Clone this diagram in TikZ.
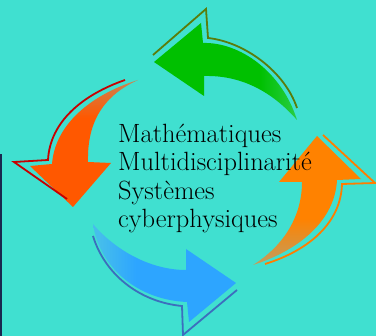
\documentclass[tikz,border=0pt]{standalone}
\usetikzlibrary{positioning}
\definecolor{bgturq}{RGB}{64,224,208}
\definecolor{greenfill}{RGB}{0,192,0}
\definecolor{greentail}{RGB}{40,205,70}
\definecolor{greenrim}{RGB}{90,125,10}
\definecolor{redfill}{RGB}{255,88,0}
\definecolor{redtail}{RGB}{205,130,80}
\definecolor{redrim}{RGB}{200,0,0}
\definecolor{orangefill}{RGB}{255,130,0}
\definecolor{orangetail}{RGB}{200,155,85}
\definecolor{orangerim}{RGB}{255,125,0}
\definecolor{bluefill}{RGB}{45,165,255}
\definecolor{bluetail}{RGB}{70,190,235}
\definecolor{bluerim}{RGB}{60,110,190}
\definecolor{stripdark}{RGB}{25,40,80}
\pgfdeclarehorizontalshading{greenfade}{100bp}{color(0bp)=(greenfill); color(62bp)=(greenfill); color(75bp)=(greentail); color(100bp)=(greentail)}
\pgfdeclareverticalshading{redfade}{100bp}{color(0bp)=(redfill); color(60bp)=(redfill); color(75bp)=(redtail); color(100bp)=(redtail)}
\pgfdeclareverticalshading{orangefade}{100bp}{color(0bp)=(orangetail); color(27bp)=(orangetail); color(43bp)=(orangefill); color(100bp)=(orangefill)}
\pgfdeclarehorizontalshading{bluefade}{100bp}{color(0bp)=(bluetail); color(27bp)=(bluetail); color(40bp)=(bluefill); color(100bp)=(bluefill)}
\begin{document}
\begin{tikzpicture}[x=1pt, y=-1pt,
    rim/.style={line width=1.8pt},
    themes/.style={align=left, anchor=north west, inner sep=0pt,
        font=\fontsize{26.4}{28.4}\selectfont}]
    \fill[bgturq] (0,0) rectangle (376,336);
    \useasboundingbox (0,0) rectangle (376,336);
    \fill[stripdark] (0,154) rectangle (2,336);

    % green arrow (top)
    \shade[shading=greenfade]
        (154,62) -- (201,23) -- (203,43) .. controls (240,42) and (282,72) .. (297,120)
        .. controls (275,95) and (245,75) .. (204,76) -- (204,96) -- cycle;
    \draw[rim, greenrim] (153,55) -- (206,9) -- (208,38)
        .. controls (245,42) and (285,72) .. (297,108);

    % red arrow (left)
    \shade[shading=redfade]
        (138,80) .. controls (90,95) and (55,125) .. (52,164) -- (30,166) -- (73,207)
        -- (111,163) -- (88,162) .. controls (87,120) and (105,95) .. (138,80);
    \draw[rim, redrim] (125,80) .. controls (82,95) and (50,122) .. (48,160)
        -- (14,162) -- (67,199);

    % orange arrow (right)
    \shade[shading=orangefade]
        (317,136) -- (279,182) -- (302,182) .. controls (302,215) and (285,245) .. (253,265)
        .. controls (300,250) and (335,220) .. (337,180) -- (361,179) -- cycle;
    \draw[rim, orangerim] (265,264) .. controls (310,250) and (341,222) .. (342,184)
        -- (375,183) -- (323,135);

    % blue arrow (bottom)
    \shade[shading=bluefade]
        (93,224) .. controls (100,270) and (140,300) .. (187,302) -- (189,322) -- (236,283)
        -- (186,249) -- (186,270) .. controls (150,270) and (115,250) .. (93,224);
    \draw[rim, bluerim] (93,236) .. controls (105,275) and (140,302) .. (182,306)
        -- (183,335) -- (237,290);

    \node[themes] (topics) at (118,124)
        {Math\'ematiques\\Multidisciplinarit\'e\\Syst\`emes\\cyberphysiques};
\end{tikzpicture}
\end{document}
